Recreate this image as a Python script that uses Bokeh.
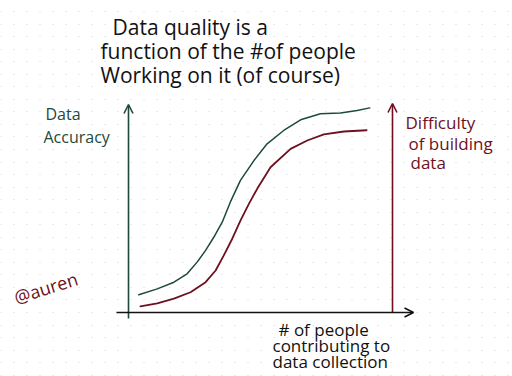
from bokeh.plotting import figure
from bokeh.models import Range1d, Arrow, OpenHead, Label, SingleIntervalTicker
from bokeh.embed import file_html
from bokeh.resources import INLINE

# --- data (people contributing -> values, arbitrary 0-100 scale) ---
people_acc = [0.39, 1.09, 1.72, 2.22, 2.60, 2.92, 3.23, 3.55, 3.86, 4.24, 4.75, 5.25,
              5.88, 6.52, 7.27, 8.03, 8.66, 9.14]
accuracy = [8.5, 11.3, 14.5, 18.5, 24.1, 29.7, 36.0, 43.2, 52.9, 63.2, 72.7, 80.7,
            87.1, 92.2, 95.1, 95.4, 96.7, 97.9]
people_dif = [0.45, 1.09, 1.72, 2.35, 2.92, 3.30, 3.61, 3.93, 4.24, 4.56, 4.88, 5.38,
              6.14, 6.77, 7.40, 8.16, 9.02]
difficulty = [2.9, 4.4, 6.6, 9.7, 14.5, 20.1, 27.3, 35.3, 44.0, 52.0, 59.3, 69.5,
              78.3, 82.3, 85.2, 86.6, 87.2]

title_lines = ["Data quality is a", "function of the #of people", "Working on it  (of course)"]
left_label = ["Data", "Accuracy"]
right_label = ["Difficulty", "of building", "data"]
bottom_label = ["# of people", "contributing to", "data collection"]
credit = "@auren"

GREEN = "#1d4a3a"
RED = "#6e1020"
INK = "#111111"
FONT = "Open Sans"

W, H = 512, 376
# plot-area placement (screen px): x 0..10 -> 128..392, y 0..100 -> 312..103
X0, X1, Y0, Y1 = 128, 392, 312, 103
kx = (X1 - X0) / 10.0
ky = (Y0 - Y1) / 100.0
x_start = -X0 / kx
x_end = 10 + (W - X1) / kx
y_start = -(H - Y0) / ky
y_end = 100 + Y1 / ky


def sx(px):
    return (px - X0) / kx


def sy(py):
    return (Y0 - py) / ky


p = figure(width=W, height=H, output_backend="svg", toolbar_location=None,
           x_range=Range1d(x_start, x_end), y_range=Range1d(y_start, y_end),
           min_border=0, outline_line_color=None)
p.axis.visible = False
p.xgrid.visible = False
p.ygrid.ticker = SingleIntervalTicker(interval=6)
p.ygrid.grid_line_color = "#d4d4d4"
p.ygrid.grid_line_dash = "1 12"
p.ygrid.grid_line_width = 1.2
p.background_fill_color = "white"

# curves
p.line(people_acc, accuracy, line_color=GREEN, line_width=1.5, line_join="round", line_cap="round")
p.line(people_dif, difficulty, line_color=RED, line_width=1.8, line_join="round", line_cap="round")

# axes as arrows
p.add_layout(Arrow(x_start=sx(128), y_start=sy(318), x_end=sx(128), y_end=sy(104),
                   line_color=GREEN, line_width=1.6,
                   end=OpenHead(size=9, line_color=GREEN, line_width=1.6)))
p.add_layout(Arrow(x_start=sx(392), y_start=sy(312), x_end=sx(392), y_end=sy(103),
                   line_color=RED, line_width=1.6,
                   end=OpenHead(size=9, line_color=RED, line_width=1.6)))
p.add_layout(Arrow(x_start=sx(116), y_start=sy(312), x_end=sx(413), y_end=sy(312),
                   line_color=INK, line_width=1.6,
                   end=OpenHead(size=9, line_color=INK, line_width=1.6)))


def add_text(lines, xs, ys, color, size):
    for t, x, y in zip(lines, xs, ys):
        p.add_layout(Label(x=sx(x), y=sy(y), text=t, text_color=color,
                           text_font=FONT, text_font_size=size,
                           text_baseline="middle", text_align="left"))


add_text(title_lines, [112, 100, 100], [26, 50, 74], INK, "21px")
add_text(left_label, [45, 43], [113, 136], GREEN, "16px")
add_text(right_label, [405, 408, 410], [122, 143, 162], RED, "17px")
add_text(bottom_label, [278, 272, 272], [329, 345, 361], INK, "17px")

p.add_layout(Label(x=sx(14), y=sy(297), text=credit, text_color=RED, text_font=FONT,
                   text_font_size="18px", angle=0.3, text_baseline="middle", text_align="left"))

open("out.html", "w").write(file_html(p, INLINE))
